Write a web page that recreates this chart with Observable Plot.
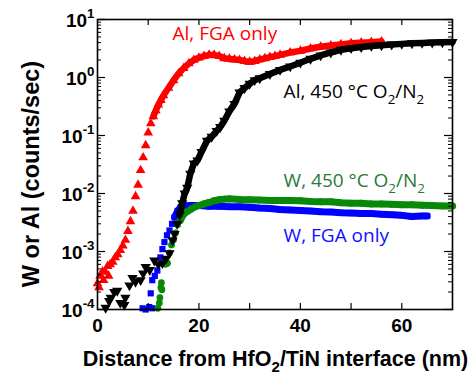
<!DOCTYPE html>
<html>
<head>
<meta charset="utf-8">
<script src="https://cdn.jsdelivr.net/npm/d3@7"></script>
<script src="https://cdn.jsdelivr.net/npm/@observablehq/plot@0.6"></script>
<style>
  html, body { margin: 0; padding: 0; background: #fff; }
  #chart { width: 473px; height: 378px; }
</style>
</head>
<body>
<div id="chart"></div>
<script>
// ---- data ----
const redX = [0, 0.3, 0.5, 1, 1.2, 1.5, 2, 2.2, 2.5, 3, 3.5, 4, 4.5, 5, 5.5, 6, 6.5, 7, 7.5, 8, 8.5, 9, 9.5, 10, 10.5, 11, 11.5, 12, 12.5, 13, 14, 15, 16, 17, 18, 19, 20, 21, 22, 23, 24, 25, 26, 27, 28, 29, 30, 31, 32, 33, 34, 35, 36, 38, 40, 42, 44, 46, 48, 50, 52, 54, 56];
const redY = [2.8e-4, 2.4e-4, 3.8e-4, 4.5e-4, 3.2e-4, 4.5e-4, 5.6e-4, 3.8e-4, 6.0e-4, 6.6e-4, 7.9e-4, 8.9e-4, 1.05e-3, 1.26e-3, 1.58e-3, 2.24e-3, 3.3e-3, 5.0e-3, 8.9e-3, 0.0141, 0.0251, 0.0417, 0.0676, 0.112, 0.162, 0.214, 0.269, 0.339, 0.407, 0.49, 0.66, 0.89, 1.17, 1.45, 1.74, 2.0, 2.19, 2.34, 2.45, 2.45, 2.34, 2.14, 2.09, 2.04, 2.0, 1.91, 1.86, 1.91, 2.04, 2.14, 2.24, 2.34, 2.45, 2.69, 2.88, 3.16, 3.39, 3.55, 3.72, 3.89, 3.98, 4.07, 4.17];

const blackX = [1.6, 2.3, 2.6, 3.3, 3.9, 4.5, 5.3, 5.5, 6.3, 6.9, 7.5, 8.5, 9, 9.5, 10.3, 11.2, 12, 12.8, 13.5, 14.2, 14.8, 15.2, 15.7, 16.2, 16.7, 17.2, 17.7, 18.3, 19, 19.7, 20.5, 21.6, 22.5, 23.5, 24.2, 25, 26, 27, 28, 29, 30, 31, 32, 34, 36, 38, 40, 42, 44, 46, 48, 50, 52, 54, 56, 58, 60, 62, 64, 66, 68, 70];
const blackY = [1.07e-4, 1.4e-4, 1.6e-4, 2.0e-4, 2.1e-4, 1.3e-4, 1.2e-4, 1.6e-4, 2.6e-4, 3.5e-4, 3.0e-4, 3.2e-4, 4.2e-4, 5.4e-4, 4.8e-4, 7.0e-4, 6.0e-4, 6.3e-4, 7.5e-4, 9.3e-4, 1.55e-3, 2.0e-3, 3.0e-3, 4.3e-3, 6.8e-3, 1.0e-2, 1.26e-2, 2.2e-2, 3.3e-2, 3.7e-2, 5.2e-2, 8.1e-2, 0.095, 0.12, 0.14, 0.18, 0.26, 0.35, 0.55, 0.66, 0.78, 0.9, 0.97, 1.15, 1.35, 1.55, 1.8, 2.1, 2.4, 2.7, 3.0, 3.2, 3.35, 3.5, 3.6, 3.7, 3.8, 3.9, 3.95, 4.0, 4.05, 4.1];

const blueX = [8.9, 9.5, 10.2, 10.8, 10.5, 10.8, 11.3, 11.8, 12.4, 12.8, 13.2, 13.7, 14.2, 14.7, 15.2, 15.8, 16.4, 17.2, 18, 20, 22, 24, 26, 28, 30, 32, 34, 36, 38, 40, 42, 44, 46, 48, 50, 52, 54, 56, 58, 60, 62, 64, 65];
const blueY = [1.05e-4, 1.0e-4, 1.1e-4, 1.05e-4, 1.9e-4, 3.2e-4, 3.8e-4, 4.7e-4, 7.9e-4, 1.1e-3, 1.45e-3, 1.9e-3, 2.3e-3, 3.0e-3, 3.9e-3, 5.0e-3, 5.8e-3, 6.0e-3, 6.2e-3, 6.2e-3, 6.0e-3, 6.0e-3, 5.9e-3, 5.9e-3, 5.8e-3, 5.6e-3, 5.5e-3, 5.3e-3, 5.2e-3, 5.1e-3, 5.0e-3, 4.85e-3, 4.8e-3, 4.65e-3, 4.6e-3, 4.5e-3, 4.5e-3, 4.4e-3, 4.3e-3, 4.2e-3, 4.0e-3, 4.1e-3, 4.1e-3];

const greenX = [11.9, 12.2, 12.3, 12.5, 12.6, 12.7, 13.4, 13.8, 14.2, 14.6, 15.0, 15.4, 15.8, 16.3, 17, 17.7, 18.5, 19.3, 20, 21, 22, 23, 24, 25, 26, 27, 28, 30, 32, 34, 36, 38, 40, 42, 44, 46, 48, 50, 52, 54, 56, 58, 60, 62, 64, 66, 68, 70];
const greenY = [1.05e-4, 1.3e-4, 1.6e-4, 2.4e-4, 2.9e-4, 2.2e-4, 6.0e-4, 6.3e-4, 9.5e-4, 1.3e-3, 1.6e-3, 2.1e-3, 2.9e-3, 3.4e-3, 4.4e-3, 4.9e-3, 5.4e-3, 5.9e-3, 6.2e-3, 6.6e-3, 7.0e-3, 7.5e-3, 7.8e-3, 8.0e-3, 8.1e-3, 8.0e-3, 7.9e-3, 7.8e-3, 7.7e-3, 7.6e-3, 7.6e-3, 7.6e-3, 7.5e-3, 7.3e-3, 7.2e-3, 7.2e-3, 6.9e-3, 6.8e-3, 6.8e-3, 6.6e-3, 6.6e-3, 6.5e-3, 6.4e-3, 6.4e-3, 6.3e-3, 6.2e-3, 6.1e-3, 6.1e-3];

const xTicks = [10, 20, 30, 40, 50, 60];
const xTickLabels = [0, 20, 40, 60];
const yMajor = [1e-4, 1e-3, 1e-2, 1e-1, 1, 10];
const yMajorLabels = ["10^{-4}", "10^{-3}", "10^{-2}", "10^{-1}", "10^{0}", "10^{1}"];
const minorMult = [2, 3, 4, 5, 6, 7, 8, 9];

const labels = [
  {x: 14.8, y: 4.35, text: "Al, FGA only", color: "#ff0000"},
  {x: 36.7, y: 0.435, text: "Al, 450 °C O_{2}/N_{2}", color: "#000000"},
  {x: 36.7, y: 0.0127, text: "W, 450 °C O_{2}/N_{2}", color: "#2a7a35"},
  {x: 36.7, y: 1.43e-3, text: "W, FGA only", color: "#1010ff"}
];

// ---- tables ----
const toTable = (xs, ys) => xs.map((x, i) => ({x, y: ys[i]}));
const red = toTable(redX, redY);
const black = toTable(blackX, blackY);
const blue = toTable(blueX, blueY);
const green = toTable(greenX, greenY);
const yMinor = [];
for (const m of yMajor.slice(0, -1)) for (const k of minorMult) yMinor.push(m * k);
const yLab = yMajor.map((v, i) => ({v, t: yMajorLabels[i]}));

// downward triangle symbol
const triangleDown = {
  draw(context, size) {
    const y = -Math.sqrt(size / (Math.sqrt(3) * 3));
    context.moveTo(0, -y * 2);
    context.lineTo(-Math.sqrt(3) * y, y);
    context.lineTo(Math.sqrt(3) * y, y);
    context.closePath();
  }
};

const W = 473, H = 378, ML = 97, MR = 21, MT = 19, MB = 69;
const PW = W - ML - MR, PH = H - MT - MB;

const cRed = "#ff0000", cBlack = "#000000", cBlue = "#0000ff", cGreen = "#088a08";

const plot = Plot.plot({
  width: W, height: H,
  marginLeft: ML, marginRight: MR, marginTop: MT, marginBottom: MB,
  x: {domain: [0, 70], axis: null},
  y: {type: "log", domain: [1e-4, 10], axis: null},
  style: {background: "#fff", fontFamily: "'Liberation Sans', Arial, sans-serif", overflow: "visible"},
  marks: [
    // bands
    Plot.line(red.filter(d => d.x >= 11), {x: "x", y: "y", stroke: cRed, strokeWidth: 6.5}),
    Plot.dot(red, {x: "x", y: "y", symbol: "triangle", r: 3.6, fill: cRed}),
    Plot.line(blue.filter(d => d.x >= 15), {x: "x", y: "y", stroke: cBlue, strokeWidth: 7}),
    Plot.dot(blue, {x: "x", y: "y", symbol: "square", r: 3.5, fill: cBlue}),
    Plot.line(green.filter(d => d.x >= 16), {x: "x", y: "y", stroke: cGreen, strokeWidth: 7}),
    Plot.dot(green, {x: "x", y: "y", symbol: "circle", r: 3.4, fill: cGreen}),
    Plot.line(black.filter(d => d.x >= 16), {x: "x", y: "y", stroke: cBlack, strokeWidth: 6.5}),
    Plot.dot(black, {x: "x", y: "y", symbol: triangleDown, r: 3.8, fill: cBlack}),
    // ticks (inward)
    Plot.tickX(xTicks, {x: d => d, insetTop: PH - 6, stroke: "#000", strokeWidth: 1.2}),
    Plot.tickX(xTicks, {x: d => d, insetBottom: PH - 6, stroke: "#000", strokeWidth: 1.2}),
    Plot.tickY(yMajor, {y: d => d, insetRight: PW - 8, stroke: "#000", strokeWidth: 1.2}),
    Plot.tickY(yMajor, {y: d => d, insetLeft: PW - 8, stroke: "#000", strokeWidth: 1.2}),
    Plot.tickY(yMinor, {y: d => d, insetRight: PW - 4, stroke: "#000", strokeWidth: 1}),
    Plot.tickY(yMinor, {y: d => d, insetLeft: PW - 4, stroke: "#000", strokeWidth: 1}),
    Plot.frame({stroke: "#000", strokeWidth: 1.6}),
    // tick labels
    Plot.text(xTickLabels, {x: d => d, frameAnchor: "bottom", lineAnchor: "top", dy: 9, text: d => String(d), fontSize: 19, fontWeight: "bold", fill: "#000"}),
    Plot.text(yLab, {y: "v", frameAnchor: "left", textAnchor: "end", dx: -3, dy: 1, text: "t", fontSize: 19, fontWeight: "bold", fill: "#000"}),
    // axis titles
    Plot.text(["Distance from HfO_{2}/TiN interface (nm)"], {frameAnchor: "bottom", textAnchor: "middle", lineAnchor: "bottom", dy: 56, dx: 275 - (ML + PW / 2), text: d => d, fontSize: 21.5, fontWeight: "bold", fill: "#000"}),
    Plot.text(["W or Al (counts/sec)"], {frameAnchor: "left", textAnchor: "middle", lineAnchor: "bottom", rotate: -90, dx: -59, dy: 173.5 - (MT + PH / 2), text: d => d, fontSize: 23.5, fontWeight: "bold", fill: "#000"}),
    // series annotations
    Plot.text(labels, {x: "x", y: "y", text: "text", fill: "color", textAnchor: "start", lineAnchor: "bottom", fontSize: 19, fontFamily: "'Open Sans', sans-serif"})
  ]
});

document.getElementById("chart").appendChild(plot);

// rich text: ^{...} superscript, _{...} subscript
d3.select(plot).selectAll("text").each(function() {
  const s = this.textContent;
  if (!/[_^]\{/.test(s)) return;
  const fs = parseFloat(getComputedStyle(this).fontSize) || 16;
  const sel = d3.select(this);
  sel.text(null);
  const re = /([_^])\{([^}]*)\}/g;
  let last = 0, m, shift = 0;
  while ((m = re.exec(s))) {
    if (m.index > last) {
      const t = sel.append("tspan").text(s.slice(last, m.index));
      if (shift) t.attr("dy", -shift);
      shift = 0;
    }
    const d = m[1] === "^" ? -0.45 * fs : 0.28 * fs;
    sel.append("tspan").attr("dy", d - shift).attr("font-size", 0.7 * fs).text(m[2]);
    shift = d;
    last = re.lastIndex;
  }
  if (last < s.length) {
    const t = sel.append("tspan").text(s.slice(last));
    if (shift) t.attr("dy", -shift);
  }
});
</script>
</body>
</html>
